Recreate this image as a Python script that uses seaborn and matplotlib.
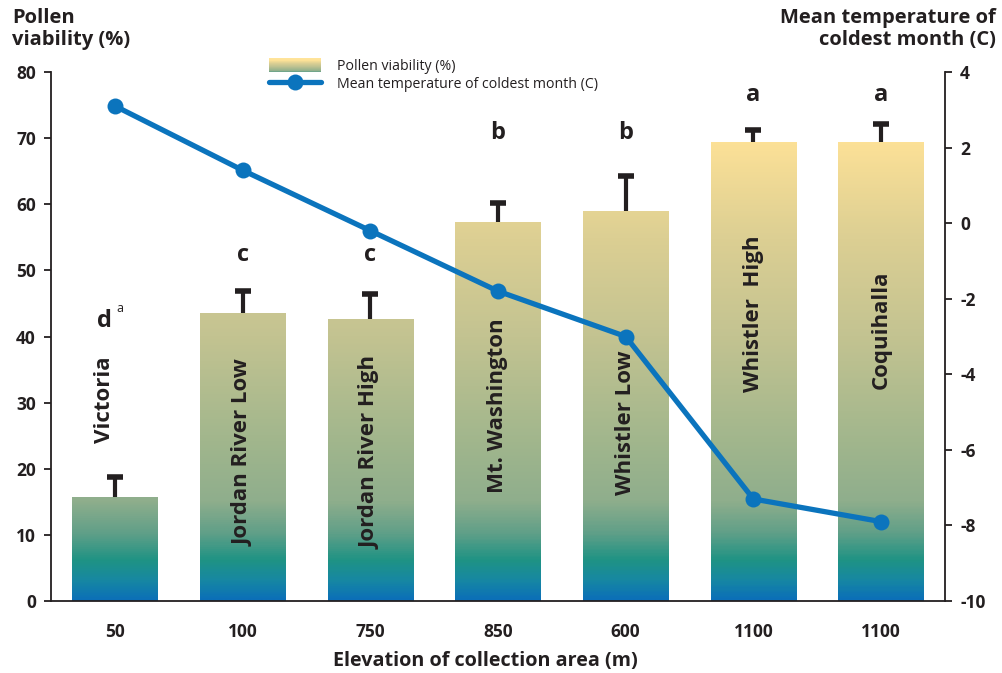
import numpy as np
import pandas as pd
import matplotlib
matplotlib.use("Agg")
import matplotlib.pyplot as plt
from matplotlib.colors import LinearSegmentedColormap
from matplotlib.legend_handler import HandlerBase
from matplotlib.patches import Rectangle
from matplotlib.lines import Line2D
import seaborn as sns

# ---- data ----
sites = ["Victoria", "Jordan River Low", "Jordan River High", "Mt. Washington",
         "Whistler Low", "Whistler  High", "Coquihalla"]
elevations = ["50", "100", "750", "850", "600", "1100", "1100"]
viability = [15.8, 43.6, 42.7, 57.3, 59.0, 69.4, 69.4]
viability_se = [3.0, 3.3, 3.7, 2.9, 5.3, 1.9, 2.8]
temperature = [3.1, 1.4, -0.2, -1.8, -3.0, -7.3, -7.9]
letters = ["d", "c", "c", "b", "b", "a", "a"]

# layout of the annotations (data units on the viability axis)
letter_y = [42.4, 52.3, 52.3, 70.8, 70.8, 76.5, 76.5]
label_y = [30.4, 22.5, 22.5, 29.5, 27.0, 43.5, 41.0]
label_dx = [-0.08, 0, 0, 0, 0, 0, 0]

INK = "#231f20"
BLUE = "#0b74bd"

sns.set_theme(style="white")
plt.rcParams["font.family"] = ["Open Sans", "DejaVu Sans"]
plt.rcParams["axes.unicode_minus"] = False
plt.rcParams["text.color"] = INK

# vertical colour ramp tied to the viability scale
stops = [(0, "#0b6fb8"), (3, "#1788a2"), (6, "#1f9384"), (10, "#5f9f88"),
         (15, "#8fae8c"), (25, "#a3b78d"), (40, "#c3c391"), (55, "#dccf93"),
         (70, "#fde197"), (80, "#ffe49a")]
ramp = LinearSegmentedColormap.from_list(
    "pollen", [(v / 80.0, c) for v, c in stops])

fig = plt.figure(figsize=(10.02, 6.73), dpi=100)
ax = fig.add_axes([0.051, 0.107, 0.892, 0.786])

df = pd.DataFrame({"site": sites, "viability": viability})
sns.barplot(data=df, x="site", y="viability", order=sites, width=0.67,
            color="white", edgecolor="none", ax=ax, zorder=1)

# gradient fill inside each bar
for bar in ax.patches:
    x0, w, h = bar.get_x(), bar.get_width(), bar.get_height()
    vals = np.linspace(0, h, 300)[:, None] / 80.0
    im = ax.imshow(ramp(vals), extent=(x0, x0 + w, 0, h), origin="lower",
                   aspect="auto", interpolation="bilinear", zorder=2)
    im.set_clip_path(bar)

# one-sided error bars: stem plus an upper cap only
xs = np.arange(len(sites))
tops = np.array(viability) + np.array(viability_se)
ax.errorbar(xs, viability, yerr=[np.zeros(len(sites)), viability_se],
            fmt="none", ecolor=INK, elinewidth=3.0, capsize=0, zorder=3)
ax.plot(xs, tops, linestyle="none", marker="_", markersize=12,
        markeredgewidth=4.0, color=INK, zorder=3)

ax.set_xlim(-0.5, len(sites) - 0.5)
ax.set_ylim(0, 80)
ax.set_yticks(range(0, 81, 10))
ax.set_xticks(xs)
ax.set_xticklabels(elevations)
ax.set_xticks(np.arange(-0.5, len(sites), 1.0), minor=True)
ax.tick_params(axis="x", which="major", length=0, pad=16)
ax.tick_params(axis="x", which="minor", length=5, width=1.3, color=INK,
               direction="out")
ax.tick_params(axis="y", length=5, width=1.3, color=INK, direction="out",
               pad=6)
for lab in ax.get_xticklabels() + ax.get_yticklabels():
    lab.set_fontweight("bold")
    lab.set_fontsize(12.5)
    lab.set_color(INK)
ax.set_xlabel("")
ax.set_ylabel("")
for side in ("top", "right"):
    ax.spines[side].set_visible(False)
for side in ("left", "bottom"):
    ax.spines[side].set_color(INK)
    ax.spines[side].set_linewidth(1.3)

# significance letters and site names
for i in range(len(sites)):
    ax.text(i + label_dx[i], letter_y[i], letters[i], ha="center",
            va="center", fontsize=17, fontweight="bold", zorder=4)
    ax.text(i + label_dx[i], label_y[i], sites[i], ha="center", va="center",
            rotation=90, fontsize=16, fontweight="bold", zorder=4)
ax.annotate("a", (label_dx[0], letter_y[0]), xytext=(11, 9),
            textcoords="offset points", ha="center", va="center",
            fontsize=9, zorder=4)

# temperature on the secondary axis
ax2 = ax.twinx()
sns.lineplot(x=xs, y=temperature, ax=ax2, color=BLUE, linewidth=3.8,
             marker="o", markersize=11.5, markeredgewidth=0, zorder=5)
ax2.set_ylim(-10, 4)
ax2.set_yticks(range(-10, 5, 2))
ax2.tick_params(axis="y", length=5, width=1.3, color=INK, direction="out",
                pad=6)
for lab in ax2.get_yticklabels():
    lab.set_fontweight("bold")
    lab.set_fontsize(12.5)
    lab.set_color(INK)
for side in ("top", "left", "bottom"):
    ax2.spines[side].set_visible(False)
ax2.spines["right"].set_color(INK)
ax2.spines["right"].set_linewidth(1.3)

# axis titles
fig.text(0.484, 0.018, "Elevation of collection area (m)", ha="center",
         va="center", fontsize=14.2, fontweight="bold")
fig.text(0.012, 0.988, "Pollen\nviability (%)", ha="left", va="top",
         fontsize=14.5, fontweight="bold", linespacing=1.1)
fig.text(0.994, 0.988, "Mean temperature of\ncoldest month (C)", ha="right",
         va="top", fontsize=14.5, fontweight="bold", linespacing=1.1,
         multialignment="right")


class GradientHandler(HandlerBase):
    def create_artists(self, legend, orig_handle, xdescent, ydescent,
                       width, height, fontsize, trans):
        n = 14
        parts = []
        for k in range(n):
            c = ramp(0.15 + 0.85 * k / (n - 1))
            r = Rectangle((-xdescent, -ydescent + height * k / n), width,
                          height / n + 0.3, facecolor=c, edgecolor="none",
                          transform=trans)
            parts.append(r)
        return parts


grad_handle = Rectangle((0, 0), 1, 1)
line_handle = Line2D([], [], color=BLUE, linewidth=3.8, marker="o",
                     markersize=11.5, markeredgewidth=0)
fig.legend([grad_handle, line_handle],
           ["Pollen viability (%)", "Mean temperature of coldest month (C)"],
           handler_map={Rectangle: GradientHandler()},
           loc="upper left", bbox_to_anchor=(0.261, 0.924), frameon=False,
           fontsize=10.2, handlelength=3.7, handleheight=1.1,
           handletextpad=1.1, labelspacing=0.15, borderpad=0,
           labelcolor=INK)

fig.savefig("out.png", dpi=100)
